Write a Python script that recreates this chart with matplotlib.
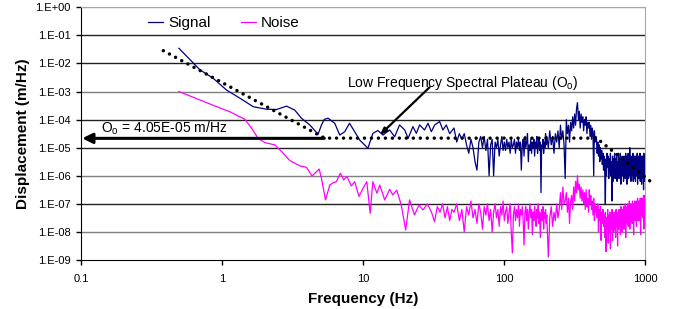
import numpy as np
import matplotlib.pyplot as plt
from matplotlib.ticker import FuncFormatter, NullLocator

plt.rcParams['font.family'] = ['Liberation Sans', 'DejaVu Sans']
plt.rcParams['mathtext.default'] = 'regular'

# smooth low-frequency part (Hz, log10 of m/Hz)
SIG_LOW_F = [0.494, 0.697, 0.865, 1.076, 1.34, 1.66, 2.06, 2.43, 2.86, 3.27,
             3.65, 4.18, 4.79, 5.06, 5.3, 5.64, 6.28, 6.82, 7.4, 8.0,
             8.7, 9.45, 10.8, 11.7, 12.7, 13.8, 15.4, 16.7, 18.1, 19.7,
             20.8, 22.5, 23.8, 25.1, 27.2, 28.8, 30.4, 32.1, 34.8, 36.7,
             38.8, 41.0]
SIG_LOW_LOG = [-1.46, -2.23, -2.53, -2.95, -3.24, -3.54, -3.63, -3.64, -3.52, -3.66,
               -3.95, -4.19, -4.52, -4.19, -3.99, -3.95, -4.13, -4.55, -4.43, -4.13,
               -4.43, -4.73, -5.02, -4.49, -4.39, -4.55, -4.37, -4.61, -4.19, -4.37,
               -4.67, -4.25, -4.49, -4.19, -4.37, -4.13, -4.43, -4.19, -4.07, -4.37,
               -4.19, -4.5]

NOISE_LOW_F = [0.494, 0.697, 0.914, 1.135, 1.45, 1.62, 1.80, 2.01, 2.36, 2.64,
               3.02, 3.56, 3.96, 4.34, 4.87, 5.06, 5.40, 5.80, 6.11, 6.45,
               6.89, 7.27, 7.67, 8.24, 8.7, 9.33, 9.96, 10.6, 11.2, 11.7,
               12.5, 13.1, 14.2, 15.4, 16.2, 17.3, 18.6, 20.0, 21.3, 23.1,
               24.8, 26.5, 28.5, 30.5, 32.0, 33.5, 35.0, 36.5, 38.0, 39.5,
               41.0, 42.5]
NOISE_LOW_LOG = [-3.0, -3.30, -3.54, -3.72, -3.99, -4.31, -4.67, -4.82, -4.90, -5.14,
                 -5.46, -5.65, -5.70, -6.01, -5.76, -6.09, -6.86, -6.33, -6.25, -6.21,
                 -5.91, -6.15, -6.03, -6.36, -6.21, -6.74, -6.45, -6.21, -7.34, -6.21,
                 -6.62, -6.33, -6.86, -6.48, -6.68, -6.51, -7.04, -7.93, -6.86, -7.40,
                 -7.04, -7.22, -7.0, -7.3, -7.64, -7.1, -7.3, -7.0, -7.5, -7.1,
                 -7.6, -7.2]

# noisy part on the FFT bins
FREQ_A = list(range(44, 199, 2))
FREQ_B = list(range(200, 1001, 5))

SIG_A = [-4.3, -4.8, -4.5, -4.7, -4.5, -4.9, -5.2, -4.7, -5.0, -5.5,
         -5.8, -4.8, -4.6, -5.0, -4.6, -5.1, -4.7, -6.0, -4.9, -4.7,
         -6.0, -4.8, -5.0, -4.7, -5.3, -4.9, -4.6, -5.1, -4.8, -5.1,
         -4.7, -5.0, -4.8, -5.2, -4.7, -5.0, -4.9, -4.7, -5.2, -4.8,
         -5.0, -4.7, -5.1, -4.8, -5.8, -4.9, -4.7, -5.3, -4.6, -5.0,
         -4.8, -4.5, -5.5, -4.9, -5.1, -4.7, -5.2, -4.8, -5.0, -4.7,
         -5.3, -4.8, -5.0, -4.6, -5.2, -4.9, -4.7, -5.1, -4.8, -6.6,
         -4.9, -5.0, -4.7, -5.2, -4.8, -5.0, -4.5, -4.9]
SIG_B = [-4.6, -5.0, -4.4, -4.9, -4.6, -5.2, -4.5, -4.8, -4.4, -5.0,
         -4.2, -4.7, -4.4, -4.9, -6.1, -4.0, -4.5, -4.2, -4.8, -4.1,
         -4.4, -3.9, -4.3, -3.8, -4.2, -3.6, -3.4, -4.0, -3.7, -4.3,
         -3.8, -4.1, -3.9, -4.4, -4.0, -4.2, -3.9, -4.5, -4.1, -4.3,
         -4.1, -4.6, -4.2, -4.7, -4.3, -4.5, -6.0, -4.4, -4.8, -4.6,
         -4.7, -5.2, -4.8, -5.3, -4.9, -5.5, -5.0, -5.4, -5.1, -5.6,
         -5.2, -5.8, -5.3, -5.9, -7.0, -5.4, -6.0, -5.2, -5.7, -5.3,
         -6.1, -5.4, -5.9, -5.2, -6.0, -5.5, -6.9, -5.3, -6.2, -5.4,
         -5.8, -5.2, -6.1, -5.4, -5.9, -5.3, -6.2, -5.5, -6.0, -5.2,
         -6.1, -5.4, -5.8, -5.2, -6.3, -5.5, -5.9, -5.3, -6.0, -5.4,
         -6.2, -5.3, -5.9, -5.5, -6.1, -5.2, -6.0, -5.4, -6.3, -5.3,
         -5.9, -5.2, -6.1, -5.4, -5.8, -5.0, -6.0, -5.3, -6.2, -5.4,
         -6.0, -5.3, -5.9, -5.2, -6.2, -5.5, -5.8, -5.3, -6.1, -5.4,
         -6.2, -5.3, -5.9, -5.5, -6.0, -5.2, -6.3, -5.4, -5.8, -5.3,
         -6.1, -5.4, -6.0, -5.2, -6.2, -5.5, -5.9, -5.3, -6.3, -5.4,
         -6.0, -5.3, -6.1, -5.5, -6.5, -5.2, -5.9, -5.4, -6.2, -5.3,
         -5.6]

NOISE_A = [-7.3, -7.0, -7.6, -7.2, -8.0, -7.1, -7.4, -6.9, -7.5, -7.2,
           -7.7, -7.0, -7.3, -7.9, -7.1, -7.4, -7.0, -7.6, -7.2, -8.0,
           -7.3, -7.0, -7.5, -7.2, -7.8, -7.1, -7.4, -6.9, -7.6, -7.3,
           -7.1, -7.7, -7.3, -7.0, -8.0, -8.75, -7.4, -7.1, -7.6, -7.2,
           -7.5, -7.0, -7.8, -7.2, -7.4, -7.1, -7.6, -8.47, -7.3, -7.1,
           -7.6, -7.2, -7.9, -7.3, -7.0, -7.5, -7.2, -8.1, -7.3, -7.6,
           -7.1, -7.4, -7.8, -7.2, -7.5, -7.0, -7.7, -7.3, -8.2, -7.4,
           -7.2, -7.6, -7.1, -7.9, -7.3, -7.5, -7.2, -7.7]
NOISE_B = [-7.4, -8.9, -7.5, -7.1, -7.8, -7.3, -7.6, -7.0, -7.5, -7.2,
           -6.6, -7.2, -6.4, -7.0, -6.9, -6.6, -7.3, -6.8, -7.7, -6.9,
           -6.7, -7.2, -6.4, -6.9, -6.2, -6.6, -6.0, -6.5, -6.3, -6.8,
           -6.4, -6.9, -6.5, -7.0, -6.6, -7.2, -6.5, -7.1, -6.8, -7.3,
           -6.5, -7.0, -6.7, -7.2, -6.9, -7.4, -6.8, -7.6, -7.0, -7.3,
           -7.1, -7.5, -7.0, -8.0, -7.2, -7.6, -7.1, -8.3, -7.3, -7.7,
           -7.2, -7.8, -7.4, -8.2, -7.3, -8.7, -7.5, -7.9, -7.2, -8.4,
           -7.4, -8.0, -7.3, -8.6, -7.5, -7.9, -7.2, -8.3, -7.6, -8.0,
           -7.3, -7.9, -7.5, -8.2, -7.2, -7.8, -7.4, -8.5, -7.3, -7.9,
           -7.2, -7.8, -7.4, -8.1, -7.1, -7.7, -7.3, -8.0, -7.2, -7.6,
           -7.1, -7.9, -7.3, -7.6, -7.0, -8.2, -7.2, -7.7, -7.1, -7.5,
           -7.0, -7.8, -7.2, -7.5, -6.9, -7.9, -7.1, -7.6, -7.0, -7.4,
           -7.1, -7.7, -6.9, -7.5, -7.2, -8.1, -7.0, -7.4, -6.9, -7.6,
           -7.0, -7.5, -6.9, -7.8, -7.1, -7.4, -6.8, -7.6, -7.0, -7.3,
           -6.9, -7.6, -7.0, -7.3, -6.8, -8.1, -6.9, -7.4, -6.8, -7.2,
           -6.9, -7.5, -6.8, -7.3, -6.7, -7.9, -6.8, -7.2, -6.7, -7.1,
           -6.8]

# fitted spectrum (dotted line)
MODEL_F = [0.383, 5.33, 450, 1170]
MODEL_LOG = [-1.545, -4.66, -4.66, -6.33]

PLATEAU = 2.15e-05
X_TICKS = [0.1, 1, 10, 100, 1000]
X_LABELS = ['0.1', '1', '10', '100', '1000']
Y_EXP = list(range(-9, 1))
GRID_COLORS = ['#7f7f7f', '#222222', '#7f7f7f', '#222222', '#222222',
               '#7f7f7f', '#222222', '#222222', '#a6a6a6']  # 1E-08 .. 1E+00

sig_f = SIG_LOW_F + FREQ_A + FREQ_B
sig_y = 10.0 ** np.array(SIG_LOW_LOG + SIG_A + SIG_B)
noise_f = NOISE_LOW_F + FREQ_A + FREQ_B
noise_y = 10.0 ** np.array(NOISE_LOW_LOG + NOISE_A + NOISE_B)

fig = plt.figure(figsize=(6.73, 3.09), dpi=100)
ax = fig.add_axes([0.1204, 0.1586, 0.8386, 0.8178])
ax.set_xscale('log')
ax.set_yscale('log')
ax.set_xlim(0.1, 1000)
ax.set_ylim(1e-9, 1)

for e, c in zip(range(-8, 1), GRID_COLORS):
    ax.axhline(10.0 ** e, color=c, lw=1, zorder=1)

ax.plot(sig_f, sig_y, color='#000080', lw=0.9, zorder=3, label='Signal')
ax.plot(noise_f, noise_y, color='#ff00ff', lw=0.9, zorder=3, label='Noise')
ax.plot(MODEL_F, 10.0 ** np.array(MODEL_LOG), color='black', lw=2.5,
        linestyle=(0, (0.01, 2.0)), dash_capstyle='round', clip_on=False, zorder=4)

# arrows and notes
ax.annotate('', xy=(0.102, PLATEAU), xytext=(5.3, PLATEAU),
            arrowprops=dict(arrowstyle='-|>,head_length=0.6,head_width=0.3',
                            lw=2.2, color='black', shrinkA=0, shrinkB=0), zorder=5)
ax.text(0.139, 10 ** -4.46, 'O$_o$ = 4.05E-05 m/Hz', fontsize=10, va='baseline')
ax.text(7.64, 10 ** -2.85, 'Low Frequency Spectral Plateau (O$_o$)', fontsize=10,
        va='baseline')
ax.annotate('', xy=(13.1, 10 ** -4.55), xytext=(29.5, 10 ** -2.85),
            arrowprops=dict(arrowstyle='-|>,head_length=0.4,head_width=0.15',
                            lw=1.6, color='black', shrinkA=0, shrinkB=0), zorder=5)

ax.set_xticks(X_TICKS)
ax.set_xticklabels(X_LABELS)
ax.set_yticks([10.0 ** e for e in Y_EXP])
ax.yaxis.set_major_formatter(FuncFormatter(lambda v, p: '1.E%+03d' % round(np.log10(v))))
ax.xaxis.set_minor_locator(NullLocator())
ax.yaxis.set_minor_locator(NullLocator())
ax.tick_params(direction='out', length=3.5, width=1, labelsize=8)
ax.tick_params(axis='x', pad=6.5)
ax.tick_params(axis='y', pad=4)

for s in ['top', 'right']:
    ax.spines[s].set_color('#a6a6a6')
for s in ['left', 'bottom']:
    ax.spines[s].set_color('black')

ax.set_xlabel('Frequency (Hz)', fontsize=11, fontweight='bold', labelpad=6)
ax.set_ylabel('Displacement (m/Hz)', fontsize=11, fontweight='bold', labelpad=4)

ax.legend(loc='upper left', bbox_to_anchor=(0.1187, 0.966), ncol=2, frameon=False,
          fontsize=11, handlelength=1.0, handletextpad=0.3, columnspacing=2.0,
          borderpad=0, borderaxespad=0)

fig.savefig('out.png', dpi=100)
